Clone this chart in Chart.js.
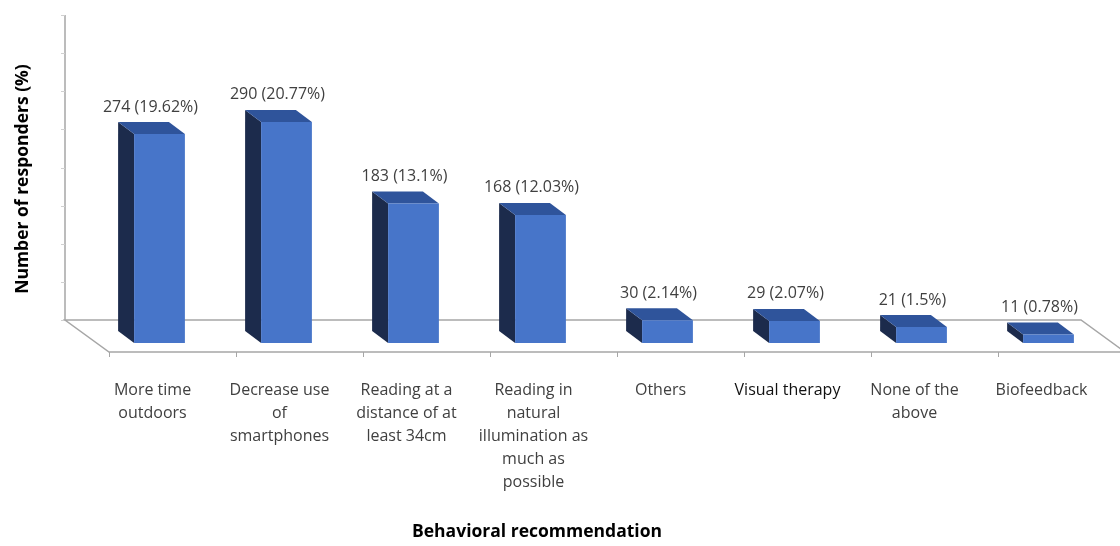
<!DOCTYPE html>
<html>
<head>
<meta charset="utf-8">
<script src="https://cdn.jsdelivr.net/npm/chart.js@4"></script>
<style>
    body { margin: 0; background: #fff; }
</style>
</head>
<body>
<canvas id="graph" width="1120" height="546"></canvas>
<script>
//Categories (multi-line labels)
var categories = [
    ['More time', 'outdoors'],
    ['Decrease use', 'of', 'smartphones'],
    ['Reading at a', 'distance of at', 'least 34cm'],
    ['Reading in', 'natural', 'illumination as', 'much as', 'possible'],
    ['Others'],
    ['Visual therapy'],
    ['None of the', 'above'],
    ['Biofeedback']
];
//Responders per recommendation
var responders = [274, 290, 183, 168, 30, 29, 21, 11];
var percents = ['19.62', '20.77', '13.1', '12.03', '2.14', '2.07', '1.5', '0.78'];
//Marks on the back wall
var wall_ticks = [0, 50, 100, 150, 200, 250, 300, 350, 400];

var FONT = '"Open Sans", "Noto Sans", sans-serif';
var LINE = '#a6a6a6';

//offsets for the fake 3d look
var bar_depth = { x: -16, y: -12 };
var floor_back = { x: -31, y: -23 };
var floor_front = { x: 13, y: 9 };

//draws wall, floor and the side/top of every bar
var box3d = {
    id: 'box3d',
    beforeDatasetsDraw: function (chart) {
        var ctx = chart.ctx;
        var area = chart.chartArea;
        var y = chart.scales.y;
        var base = y.getPixelForValue(0);

        ctx.save();
        ctx.strokeStyle = LINE;
        ctx.lineWidth = 1.5;

        //back wall line + ticks
        var wx = area.left + floor_back.x;
        ctx.beginPath();
        ctx.moveTo(wx, y.getPixelForValue(wall_ticks[0]) + floor_back.y);
        ctx.lineTo(wx, y.getPixelForValue(wall_ticks[wall_ticks.length - 1]) + floor_back.y);
        ctx.stroke();
        ctx.lineWidth = 1;
        ctx.strokeStyle = '#d0d0d0';
        for (const i in wall_ticks) {
            var ty = Math.round(y.getPixelForValue(wall_ticks[i]) + floor_back.y) + 0.5;
            ctx.beginPath();
            ctx.moveTo(wx - 4, ty);
            ctx.lineTo(wx, ty);
            ctx.stroke();
        }

        //floor
        ctx.strokeStyle = LINE;
        ctx.lineWidth = 1.5;
        ctx.beginPath();
        ctx.moveTo(area.left + floor_back.x, base + floor_back.y);
        ctx.lineTo(area.right + floor_back.x, base + floor_back.y);
        ctx.lineTo(area.right + floor_front.x, base + floor_front.y);
        ctx.lineTo(area.left + floor_front.x, base + floor_front.y);
        ctx.closePath();
        ctx.stroke();

        //category ticks on the front edge
        var step = (area.right - area.left) / categories.length;
        ctx.lineWidth = 1;
        for (var i = 0; i <= categories.length; i++) {
            var tx = Math.round(area.left + floor_front.x + i * step) + 0.5;
            ctx.beginPath();
            ctx.moveTo(tx, base + floor_front.y);
            ctx.lineTo(tx, base + floor_front.y + 5);
            ctx.stroke();
        }

        //side + top faces
        var bars = chart.getDatasetMeta(0).data;
        for (const b of bars) {
            var l = b.x - b.width / 2;
            var r = b.x + b.width / 2;
            ctx.fillStyle = '#1c2b4c';
            ctx.beginPath();
            ctx.moveTo(l, b.y);
            ctx.lineTo(l + bar_depth.x, b.y + bar_depth.y);
            ctx.lineTo(l + bar_depth.x, b.base + bar_depth.y);
            ctx.lineTo(l, b.base);
            ctx.closePath();
            ctx.fill();

            ctx.fillStyle = '#2f549b';
            ctx.beginPath();
            ctx.moveTo(l, b.y);
            ctx.lineTo(r, b.y);
            ctx.lineTo(r + bar_depth.x, b.y + bar_depth.y);
            ctx.lineTo(l + bar_depth.x, b.y + bar_depth.y);
            ctx.closePath();
            ctx.fill();
        }
        ctx.restore();
    },
    afterDatasetsDraw: function (chart) {
        var ctx = chart.ctx;
        var bars = chart.getDatasetMeta(0).data;
        ctx.save();
        ctx.font = '16px ' + FONT;
        ctx.fillStyle = '#404040';
        ctx.textAlign = 'center';
        ctx.textBaseline = 'middle';
        bars.forEach(function (b, i) {
            ctx.fillText(responders[i] + ' (' + percents[i] + '%)', b.x - 9, b.y + bar_depth.y - 15);
        });

        //axis titles
        ctx.font = 'bold 17.5px ' + FONT;
        ctx.fillStyle = '#000';
        ctx.fillText('Behavioral recommendation', 537, 532);
        ctx.translate(23, 179);
        ctx.rotate(-Math.PI / 2);
        ctx.fillText('Number of responders (%)', 0, 0);
        ctx.restore();
    }
};

const ctx = document.getElementById('graph');

new Chart(ctx, {
    type: 'bar',
    data: {
        labels: categories,
        datasets: [{
            data: responders,
            backgroundColor: '#4775c9',
            borderWidth: 0,
            categoryPercentage: 1,
            barPercentage: 0.4
        }]
    },
    options: {
        responsive: false,
        animation: false,
        layout: {
            autoPadding: false,
            padding: { left: 96, right: 8, top: 38, bottom: 44.5 }
        },
        plugins: {
            legend: { display: false },
            tooltip: { enabled: false }
        },
        scales: {
            y: {
                display: false,
                min: 0,
                max: 400
            },
            x: {
                //tick marks are hidden, their length only pushes the labels down
                grid: { display: false, drawTicks: true, tickLength: 27.5 },
                border: { display: false },
                ticks: {
                    padding: 8,
                    maxRotation: 0,
                    minRotation: 0,
                    autoSkip: false,
                    labelOffset: -7,
                    font: { family: FONT, size: 16, lineHeight: 23 / 16 },
                    color: function (c) {
                        return c.index == 5 ? '#111' : '#404040';
                    }
                }
            }
        }
    },
    plugins: [box3d]
});
</script>
</body>
</html>
